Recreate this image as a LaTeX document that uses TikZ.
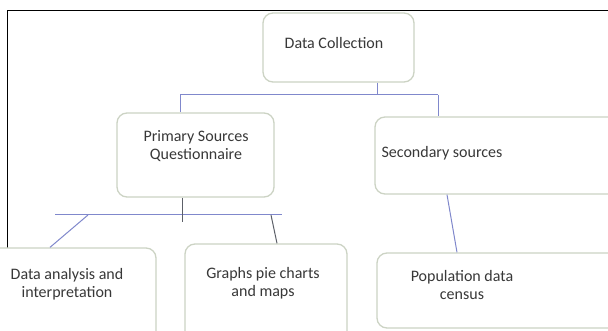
\documentclass[tikz,border=0pt]{standalone}
\usepackage{fontspec}
\setmainfont{Carlito}
\begin{document}
\begin{tikzpicture}[x=1pt,y=-1pt,
  box/.style={draw=boxc, line width=1.3pt, rounded corners=10pt, fill=white, inner sep=0pt},
  txt/.style={align=center, text=txtc, font=\fontsize{16}{18}\selectfont, inner sep=0pt},
  link/.style={draw=linec, line width=1pt},
  dlink/.style={draw=darkc, line width=1pt}]
\definecolor{boxc}{HTML}{CCD3C4}
\definecolor{txtc}{HTML}{383838}
\definecolor{linec}{HTML}{8088CC}
\definecolor{darkc}{HTML}{5C6068}
\useasboundingbox (0,0) rectangle (608,331);
\fill[white] (0,0) rectangle (608,331);
\draw[black, line width=1pt] (7,331) -- (7,11) -- (608,11);
% boxes
\node[box, minimum width=151pt, minimum height=69pt] (dc) at (338.5,47.5) {};
\node[box, minimum width=157pt, minimum height=84pt] (ps) at (195.5,155) {};
\node[box, minimum width=250pt, minimum height=77pt] (ss) at (500,155.5) {};
\node[box, minimum width=180pt, minimum height=110pt] (da) at (66,303) {};
\node[box, minimum width=162pt, minimum height=110pt] (gp) at (266,299) {};
\node[box, minimum width=250pt, minimum height=75pt] (pd) at (502,290.5) {};
% texts
\node[txt] (tdc) at (334,43) {Data Collection};
\node[txt] (tps) at (196,146) {Primary Sources\\Questionnaire};
\node[txt] (tss) at (442,153) {Secondary sources};
\node[txt] (tda) at (67,284) {Data analysis and\\interpretation};
\node[txt] (tgp) at (263,283) {Graphs pie charts\\and maps};
\node[txt] (tpd) at (462,285) {Population data\\census};
% junction coordinates
\coordinate (j0) at (377,95);
\coordinate (jl) at (180,95);
\coordinate (jr) at (438,95);
\coordinate (h1) at (55,215);
\coordinate (h2) at (282,215);
\coordinate (hd) at (88,215);
\coordinate (hp) at (182,215);
\coordinate (hpe) at (182,222);
\coordinate (hg) at (271,215);
% connectors
\draw[link] (dc.south -| j0) -- (j0);
\draw[link] (jl) -- (jr);
\draw[link] (jl) -- (jl |- ps.north);
\draw[link] (jr) -- (jr |- ss.north);
\draw[link] (h1) -- (h2);
\draw[dlink] (ps.south -| hp) -- (hpe);
\draw[link] (hd) -- (50,250 |- da.north);
\draw[dlink] (hg) -- (277,0 |- gp.north);
\draw[link] (447,0 |- ss.south) -- (457,0 |- pd.north);
\end{tikzpicture}
\end{document}
